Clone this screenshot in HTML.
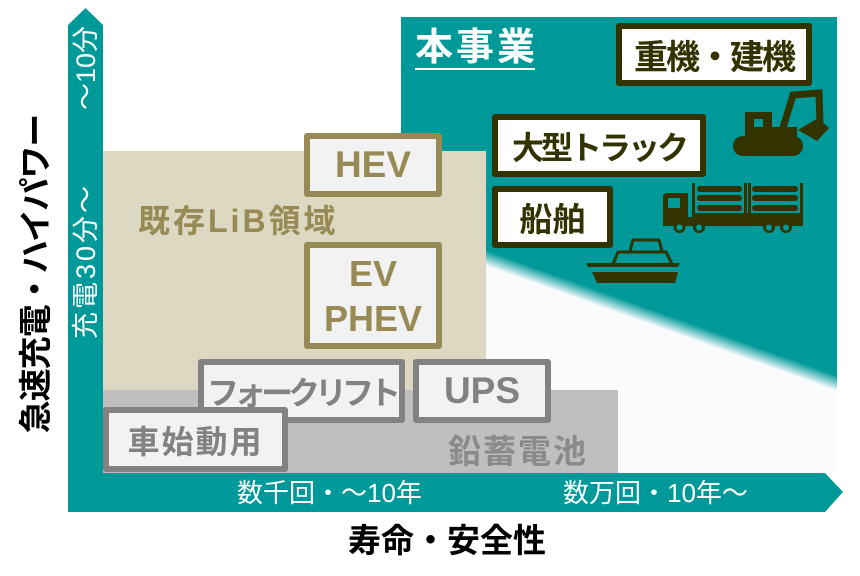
<!DOCTYPE html>
<html><head><meta charset="utf-8">
<style>
html,body{margin:0;padding:0;background:#fff;}
body{width:860px;height:576px;position:relative;overflow:hidden;font-family:"Liberation Sans","Noto Sans CJK JP",sans-serif;}
.a{position:absolute;}
.box{position:absolute;box-sizing:border-box;border-radius:3px;display:flex;align-items:center;justify-content:center;text-align:center;font-weight:bold;white-space:nowrap;}
.ol{border:6px solid #978a54;background:#f2f2f2;color:#978a54;}
.gr{border:6px solid #828282;background:#f2f2f2;color:#828282;}
.dk{border:6px solid #333300;background:#fff;color:#333300;}
.rot{position:absolute;transform:rotate(-90deg);text-align:center;white-space:nowrap;}
</style></head>
<body>
<svg class="a" style="left:0;top:0" width="860" height="576" viewBox="0 0 860 576">
  <defs>
    <linearGradient id="g" gradientUnits="userSpaceOnUse" x1="663.5" y1="313.5" x2="658.5" y2="327.5">
      <stop offset="0" stop-color="#009999"/>
      <stop offset="1" stop-color="#f9fbfd"/>
    </linearGradient>
  </defs>
  <rect x="401" y="17" width="436" height="456" fill="url(#g)"/>
  <rect x="103" y="151" width="383" height="239" fill="#ddd8c2"/>
  <rect x="103" y="390" width="515" height="83" fill="#bfbfbf"/>
  <polygon points="68,25 85.5,8 103,25 103,512 68,512" fill="#009999"/>
  <polygon points="68,473 825,473 843,492 825,512 68,512" fill="#009999"/>
  <!-- excavator -->
  <g fill="#333300">
    <rect x="733" y="136" width="70" height="20" rx="10"/>
    <rect x="745" y="112" width="27" height="25"/>
    <rect x="745" y="127" width="52" height="10"/>
    <polyline points="782,131 793,95 819,93 820,124" fill="none" stroke="#333300" stroke-width="7" stroke-linejoin="miter"/>
    <polygon points="798,130 818,118 829,128 817,141"/>
  </g>
  <rect x="754" y="119" width="9" height="8" fill="#009999"/>
  <!-- truck -->
  <g fill="#333300">
    <path d="M663,223 L663,197 Q663,193 667,193 L688,193 L688,223 Z"/>
    <rect x="663" y="217" width="140" height="9"/>
    <rect x="692" y="183" width="3" height="35"/>
    <rect x="744" y="183" width="3" height="35"/>
    <rect x="748" y="183" width="3" height="35"/>
    <rect x="800" y="183" width="3" height="35"/>
    <rect x="692" y="213" width="111" height="4"/>
    <rect x="697" y="186" width="45" height="6" rx="3"/>
    <rect x="697" y="195" width="45" height="6" rx="3"/>
    <rect x="697" y="205" width="45" height="6" rx="3"/>
    <rect x="752" y="186" width="46" height="6" rx="3"/>
    <rect x="752" y="195" width="46" height="6" rx="3"/>
    <rect x="752" y="205" width="46" height="6" rx="3"/>
    <circle cx="679.5" cy="227" r="6"/>
    <circle cx="699" cy="227" r="6"/>
    <circle cx="769" cy="227" r="6"/>
    <circle cx="786" cy="227" r="6"/>
  </g>
  <g fill="#009999">
    <rect x="668" y="198" width="12" height="10"/>
    <circle cx="679.5" cy="227.5" r="3"/>
    <circle cx="699" cy="227.5" r="3"/>
    <circle cx="769" cy="227.5" r="3"/>
    <circle cx="786" cy="227.5" r="3"/>
  </g>
  <!-- ship -->
  <g fill="#333300">
    <polygon points="586,263 680,263 678,267 588,267"/>
    <polygon points="592,272 678,272 675,283 597,283"/>
  </g>
  <g fill="none" stroke="#333300" stroke-width="3" stroke-linejoin="round">
    <path d="M613,264 L618,252 L666,252 L672,264"/>
    <path d="M630,251 L633,240 L659,240 L662,251"/>
  </g>
</svg>

<!-- title 本事業 -->
<div class="a" style="left:415px;top:26px;font-size:38px;line-height:44px;font-weight:bold;color:#fff;letter-spacing:3px;white-space:nowrap;">本事業</div>
<div class="a" style="left:415px;top:68px;width:120px;height:1.5px;background:#fff;"></div>

<!-- dark boxes -->
<div class="box dk" style="left:616px;top:23px;width:196px;height:63px;font-size:34px;letter-spacing:-2px;">重機・建機</div>
<div class="box dk" style="left:492px;top:114px;width:214px;height:63px;font-size:32px;letter-spacing:-3px;">大型トラック</div>
<div class="box dk" style="left:492px;top:186px;width:121px;height:62px;font-size:33px;">船舶</div>

<!-- olive -->
<div class="a" style="left:138px;top:203px;font-size:32px;line-height:36px;font-weight:bold;color:#978a54;letter-spacing:3px;white-space:nowrap;">既存LiB領域</div>
<div class="box ol" style="left:304px;top:133px;width:138px;height:64px;font-size:37px;">HEV</div>
<div class="box ol" style="left:304px;top:242px;width:138px;height:107px;font-size:36px;line-height:45px;">EV<br>PHEV</div>

<!-- gray -->
<div class="box gr" style="left:198px;top:359px;width:207px;height:64px;font-size:32px;letter-spacing:-5px;">フォークリフト</div>
<div class="box gr" style="left:413px;top:359px;width:138px;height:64px;font-size:37px;">UPS</div>
<div class="box gr" style="left:103px;top:407px;width:185px;height:65px;font-size:32px;letter-spacing:2px;">車始動用</div>
<div class="a" style="left:448px;top:432px;font-size:33px;line-height:40px;font-weight:bold;color:#8a8a8a;letter-spacing:2px;white-space:nowrap;">鉛蓄電池</div>

<!-- axis labels -->
<div class="a" style="left:237px;top:477px;font-size:26px;line-height:32px;color:#fff;white-space:nowrap;">数千回・〜10年</div>
<div class="a" style="left:563px;top:477px;font-size:26px;line-height:32px;color:#fff;white-space:nowrap;">数万回・10年〜</div>
<div class="a" style="left:348px;top:521px;font-size:33px;line-height:40px;font-weight:bold;color:#000;white-space:nowrap;">寿命・安全性</div>

<div class="rot" style="left:-129px;top:254px;width:330px;height:40px;line-height:40px;font-size:33px;font-weight:bold;color:#000;letter-spacing:-1px;">急速充電・ハイパワー</div>
<div class="rot" style="left:36px;top:52px;width:100px;height:32px;line-height:32px;font-size:27px;color:#fff;">〜10分</div>
<div class="rot" style="left:6px;top:245px;width:160px;height:32px;line-height:32px;font-size:27px;color:#fff;letter-spacing:3px;">充電30分〜</div>
</body></html>
